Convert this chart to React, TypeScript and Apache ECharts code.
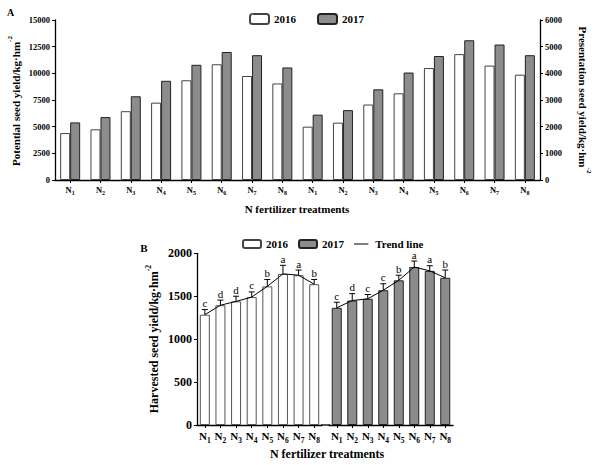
import React, { useEffect, useRef } from "react";
import * as echarts from "echarts";

const treatments = ["N1", "N2", "N3", "N4", "N5", "N6", "N7", "N8"];
const potential2016 = [4400, 4750, 6450, 7250, 9350, 10850, 9750, 9050];
const potential2017 = [5400, 5900, 7850, 9300, 10800, 12000, 11700, 10550];
const presentation2016 = [2000, 2150, 2830, 3250, 4200, 4720, 4290, 3950];
const presentation2017 = [2450, 2620, 3400, 4030, 4650, 5240, 5080, 4680];
const harvested2016 = [1285, 1395, 1440, 1490, 1615, 1760, 1745, 1640];
const harvested2017 = [1365, 1450, 1470, 1570, 1685, 1840, 1795, 1715];
const err2016 = [60, 60, 60, 60, 80, 100, 60, 55];
const err2017 = [65, 80, 50, 75, 60, 70, 60, 90];
const letters2016 = ["c", "d", "d", "c", "b", "a", "a", "b"];
const letters2017 = ["c", "d", "c", "c", "b", "a", "a", "b"];

const FF = "Liberation Serif";

function xLabel(size: number, sub: number) {
  return {
    color: "#000",
    interval: 0,
    formatter: (v: string) => `{n|N}{s|${v.slice(1)}}`,
    rich: {
      n: { fontSize: size, fontFamily: FF, fontWeight: "bold", color: "#000", lineHeight: size * 1.35, verticalAlign: "top" },
      s: { fontSize: sub, fontFamily: FF, fontWeight: "bold", color: "#000", lineHeight: sub, verticalAlign: "bottom" },
    },
  };
}

function titleRich(size: number) {
  return {
    m: { fontSize: size, fontFamily: FF, fontWeight: "bold", fill: "#000", lineHeight: size * 1.3, verticalAlign: "bottom" },
    p: { fontSize: size * 0.65, fontFamily: FF, fontWeight: "bold", fill: "#000", lineHeight: size * 0.65, verticalAlign: "top" },
  };
}

function errSeries(name: string, axis: number, vals: number[], errs: number[], letters: string[]) {
  return {
    type: "custom",
    name,
    xAxisIndex: axis,
    yAxisIndex: axis,
    z: 5,
    encode: { x: 0, y: 1 },
    data: vals.map((v, i) => [i, v, errs[i]]),
    renderItem: (params: any, api: any) => {
      const x = api.value(0);
      const v = api.value(1);
      const e = api.value(2);
      const top = api.coord([x, v]);
      const cap = api.coord([x, v + e]);
      return {
        type: "group",
        children: [
          { type: "line", shape: { x1: top[0], y1: top[1], x2: cap[0], y2: cap[1] }, style: { stroke: "#000", lineWidth: 1 } },
          { type: "line", shape: { x1: cap[0] - 3, y1: cap[1], x2: cap[0] + 3, y2: cap[1] }, style: { stroke: "#000", lineWidth: 1 } },
          {
            type: "text",
            x: cap[0],
            y: cap[1] - 1,
            style: { text: letters[params.dataIndex], align: "center", verticalAlign: "bottom", fontSize: 11, fontFamily: FF, fill: "#000" },
          },
        ],
      };
    },
  };
}

const axisLineStyle = { show: true, lineStyle: { color: "#000", width: 1.3 } };

export default function App() {
  const ref = useRef<HTMLDivElement>(null);
  useEffect(() => {
    if (!ref.current) return;
    const chart = echarts.init(ref.current, undefined, { renderer: "svg" });
    const white = { color: "#ffffff", borderColor: "#444", borderWidth: 1 };
    const gray = { color: "#8c8c8c", borderColor: "#222", borderWidth: 1 };
    const catAxis = (grid: number, size: number, sub: number, margin: number) => ({
      type: "category",
      gridIndex: grid,
      data: treatments,
      axisLine: axisLineStyle,
      axisTick: { show: true, alignWithLabel: true, interval: 0, length: 3, lineStyle: { color: "#000" } },
      axisLabel: { ...xLabel(size, sub), margin },
    });
    const valAxis = (grid: number, pos: string, max: number, interval: number, size: number, show = true) => ({
      type: "value",
      gridIndex: grid,
      position: pos,
      min: 0,
      max,
      interval,
      show,
      splitLine: { show: false },
      axisLine: axisLineStyle,
      axisTick: { show: true, length: 3, lineStyle: { color: "#000" } },
      axisLabel: { color: "#000", fontSize: size, fontFamily: FF, fontWeight: "bold", margin: 5, formatter: (v: number) => String(v) },
    });
    const legendText = { color: "#000", fontSize: 11, fontFamily: FF, fontWeight: "bold" };
    chart.setOption({
      animation: false,
      grid: [
        { left: 55, top: 20, width: 242.5, height: 160 },
        { left: 297.5, top: 20, width: 242.5, height: 160 },
        { left: 197, top: 253.3, width: 125, height: 171.7 },
        { left: 329, top: 253.3, width: 124, height: 171.7 },
      ],
      legend: [
        { data: ["2016", "2017"], left: 244, top: 8, itemWidth: 19, itemHeight: 10, itemGap: 21, textStyle: legendText, selectedMode: false },
        {
          data: [
            "2016",
            "2017",
            { name: "Trend line", icon: "path://M0,0 L0.01,0 L0.01,0.01 Z M0,4.5 L18,4.5 L18,5.6 L0,5.6 Z M0,10 L0.01,10 L0.01,9.99 Z", itemStyle: { color: "#000", borderWidth: 0 } },
          ],
          left: 237,
          top: 233.5,
          itemWidth: 18,
          itemHeight: 8,
          itemGap: 10,
          textStyle: legendText,
          selectedMode: false,
        },
      ],
      xAxis: [catAxis(0, 8.5, 6, 5), catAxis(1, 8.5, 6, 5), catAxis(2, 11, 7.5, 5), catAxis(3, 11, 7.5, 5)],
      yAxis: [
        valAxis(0, "left", 15000, 2500, 8.5),
        valAxis(1, "right", 6000, 1000, 8.5),
        valAxis(2, "left", 2000, 500, 12),
        valAxis(3, "left", 2000, 500, 12, false),
      ],
      series: [
        { type: "bar", name: "2016", xAxisIndex: 0, yAxisIndex: 0, data: potential2016, barWidth: 10, barGap: "0%", itemStyle: white },
        { type: "bar", name: "2017", xAxisIndex: 0, yAxisIndex: 0, data: potential2017, barWidth: 10, barGap: "0%", itemStyle: gray },
        { type: "bar", name: "2016", xAxisIndex: 1, yAxisIndex: 1, data: presentation2016, barWidth: 10, barGap: "0%", itemStyle: white },
        { type: "bar", name: "2017", xAxisIndex: 1, yAxisIndex: 1, data: presentation2017, barWidth: 10, barGap: "0%", itemStyle: gray },
        { type: "bar", name: "2016", xAxisIndex: 2, yAxisIndex: 2, data: harvested2016, barWidth: 10, itemStyle: { color: "#fff", borderColor: "#555", borderWidth: 1 } },
        { type: "bar", name: "2017", xAxisIndex: 3, yAxisIndex: 3, data: harvested2017, barWidth: 10, itemStyle: gray },
        { type: "line", name: "Trend line", xAxisIndex: 2, yAxisIndex: 2, data: harvested2016, symbol: "none", z: 4, lineStyle: { color: "#000", width: 1 }, itemStyle: { color: "#000" } },
        { type: "line", name: "Trend line", xAxisIndex: 3, yAxisIndex: 3, data: harvested2017, symbol: "none", z: 4, lineStyle: { color: "#000", width: 1 }, itemStyle: { color: "#000" } },
        errSeries("err2016", 2, harvested2016, err2016, letters2016),
        errSeries("err2017", 3, harvested2017, err2017, letters2017),
      ],
      graphic: [
        { type: "line", shape: { x1: 321, y1: 425, x2: 330, y2: 425 }, style: { stroke: "#000", lineWidth: 1.3 } },
        { type: "text", x: 10.5, y: 12.5, style: { text: "A", align: "center", verticalAlign: "middle", fontSize: 10, fontWeight: "bold", fontFamily: FF, fill: "#000" } },
        { type: "text", x: 144, y: 247.5, style: { text: "B", align: "center", verticalAlign: "middle", fontSize: 11, fontWeight: "bold", fontFamily: FF, fill: "#000" } },
        { type: "text", x: 14, y: 101, rotation: Math.PI / 2, style: { text: "{m|Potential seed yield/kg·hm}{p|-2}", rich: titleRich(11), align: "center", verticalAlign: "middle" } },
        { type: "text", x: 585, y: 100, rotation: -Math.PI / 2, style: { text: "{m|Presentation seed yield/kg·hm}{p|-2}", rich: titleRich(11), align: "center", verticalAlign: "middle" } },
        { type: "text", x: 297, y: 209, style: { text: "N fertilizer treatments", align: "center", verticalAlign: "middle", fontSize: 11, fontWeight: "bold", fontFamily: FF, fill: "#000" } },
        { type: "text", x: 152, y: 339, rotation: Math.PI / 2, style: { text: "{m|Harvested seed yield/kg·hm}{p|-2}", rich: titleRich(12), align: "center", verticalAlign: "middle" } },
        { type: "text", x: 327, y: 454, style: { text: "N fertilizer treatments", align: "center", verticalAlign: "middle", fontSize: 12, fontWeight: "bold", fontFamily: FF, fill: "#000" } },
      ],
    });
    return () => chart.dispose();
  }, []);
  return <div ref={ref} style={{ position: "fixed", left: 0, top: 0, width: 600, height: 465, background: "#fff" }} />;
}
